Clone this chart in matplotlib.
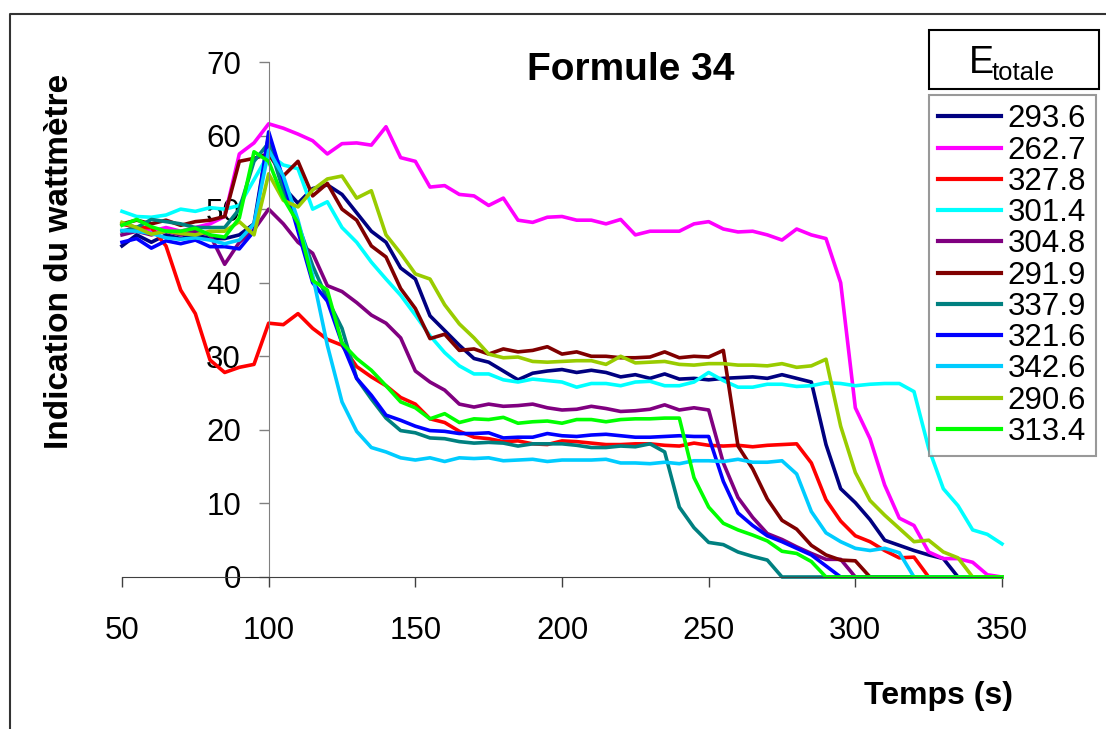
# Formule 34 : indication du wattmetre en fonction du temps
import numpy as np
import matplotlib.pyplot as plt
from matplotlib.lines import Line2D
from matplotlib.patches import Rectangle

plt.rcParams['font.family'] = ['Liberation Sans', 'DejaVu Sans']

# temps (s), un point toutes les 5 s
temps = np.arange(50, 351, 5)

# energie totale de chaque essai (legende)
energies = ['293.6', '262.7', '327.8', '301.4', '304.8', '291.9',
            '337.9', '321.6', '342.6', '290.6', '313.4']
couleurs = ['#000080', '#FF00FF', '#FF0000', '#00FFFF', '#800080', '#800000',
            '#008080', '#0000FF', '#00CCFF', '#99CC00', '#00FF00']

# valeurs (t = 50, 55, ..., 350)
e293_6 = [45, 46.5, 45.5, 46.5, 46, 46.5, 46, 46, 46.5, 48,
          60, 53, 50.8, 52.8, 53.3, 52, 49.5, 47, 45.5, 42,
          40.5, 35.5, 33.5, 31.5, 29.7, 29.2, 28, 26.8, 27.7, 28,
          28.2, 27.8, 28.1, 27.8, 27.2, 27.5, 27, 27.6, 26.9, 27,
          26.8, 27, 27.1, 27.2, 27, 27.5, 27, 26.5, 18, 12,
          10.1, 7.8, 5, 4.3, 3.6, 3, 2.5, 0, 0, 0,
          0]
e262_7 = [48, 47.5, 47, 47.5, 47, 47.5, 48, 49, 57.5, 59,
          61.6, 61, 60.2, 59.3, 57.5, 58.9, 59, 58.7, 61.2, 57,
          56.5, 53, 53.2, 52, 51.8, 50.5, 51.5, 48.5, 48.2, 48.9,
          49, 48.5, 48.5, 48, 48.6, 46.5, 47, 47, 47, 48,
          48.3, 47.3, 46.9, 47, 46.5, 45.8, 47.3, 46.5, 46, 40,
          23, 18.8, 12.5, 8, 7, 3.4, 2.5, 2.5, 2, 0.3,
          0]
e327_8 = [48, 47.5, 47.5, 45, 39, 35.8, 29.5, 27.8, 28.5, 28.9,
          34.5, 34.3, 35.8, 33.8, 32.3, 31.5, 28.6, 27.2, 26, 24.4,
          23.5, 21.5, 21, 19.8, 19, 18.8, 18.4, 18.5, 18.1, 18,
          18.5, 18.4, 18.2, 18, 18, 18.1, 18.1, 17.9, 17.8, 18.2,
          17.9, 17.8, 17.9, 17.7, 17.9, 18, 18.1, 15.5, 10.5, 7.6,
          5.6, 4.8, 3.6, 2.6, 2.7, 0, 0, 0, 0, 0,
          0]
e301_4 = [49.7, 49, 48.9, 49.2, 50, 49.7, 50.2, 50, 50.5, 54,
          57.5, 56, 55.5, 50, 51, 47.5, 45.5, 42.8, 40.5, 38.3,
          35.6, 32.8, 30.5, 28.7, 27.6, 27.6, 26.8, 26.5, 26.9, 26.7,
          26.5, 25.8, 26.3, 26.3, 26, 26.5, 26.6, 26, 26, 26.5,
          27.8, 26.7, 25.8, 25.8, 26.2, 26.2, 25.9, 26, 26.4, 26.3,
          26, 26.2, 26.3, 26.3, 25.2, 17.5, 12, 9.7, 6.4, 5.8,
          4.5]
e304_8 = [46.5, 47, 46.5, 47, 46.5, 47, 46.5, 42.5, 45.5, 47.2,
          50, 48, 45.5, 44, 39.6, 38.8, 37.3, 35.6, 34.5, 32.5,
          28, 26.5, 25.4, 23.5, 23.1, 23.5, 23.2, 23.3, 23.5, 23,
          22.7, 22.8, 23.2, 22.9, 22.5, 22.6, 22.8, 23.4, 22.7, 23,
          22.7, 15.5, 10.8, 8.1, 5.9, 5.1, 4.1, 3.2, 2.4, 2.4,
          0, 0, 0, 0, 0, 0, 0, 0, 0, 0,
          0]
e291_9 = [48, 48.5, 48, 48.5, 47.8, 48.3, 48.5, 49, 56.5, 56.9,
          57.5, 54.5, 56.5, 51.8, 53.5, 50, 48.5, 45, 43.5, 39.2,
          36.5, 32.4, 33, 30.8, 31, 30.3, 31, 30.6, 30.8, 31.3,
          30.3, 30.6, 30, 30, 29.8, 29.8, 29.9, 30.6, 29.8, 30,
          29.9, 30.8, 17.8, 14.7, 10.6, 7.7, 6.5, 4.3, 3, 2.3,
          2.2, 0, 0, 0, 0, 0, 0, 0, 0, 0,
          0]
e337_9 = [47, 47.5, 48.6, 48.3, 48, 47.5, 47.5, 47.5, 50, 56.5,
          59, 52.5, 48, 42.3, 37.8, 33.8, 27, 24.2, 21.6, 19.9,
          19.6, 18.9, 18.8, 18.4, 18.2, 18.3, 18.2, 17.8, 18.1, 18.1,
          18.1, 17.9, 17.6, 17.6, 17.8, 17.7, 18.1, 17, 9.5, 6.7,
          4.7, 4.4, 3.4, 2.8, 2.3, 0, 0, 0, 0, 0,
          0, 0, 0, 0, 0, 0, 0, 0, 0, 0,
          0]
e321_6 = [45.5, 46, 44.7, 45.7, 45.3, 45.8, 44.9, 44.9, 44.6, 47,
          60.5, 54, 47, 40, 37.5, 31.8, 27, 24.7, 22, 21.3,
          20.5, 19.9, 19.8, 19.5, 19.5, 19.6, 18.9, 19, 19, 19.5,
          19.2, 19.1, 19.3, 19.4, 19.2, 19, 19, 19.1, 19.2, 19.1,
          19.1, 13, 8.7, 7, 5.6, 4.8, 3.9, 3, 1.5, 0,
          0, 0, 0, 0, 0, 0, 0, 0, 0, 0,
          0]
e342_6 = [47.1, 47, 46.7, 46.1, 45.9, 46.1, 45.8, 45.3, 45.8, 48,
          58, 54.5, 48.5, 41, 31.5, 23.8, 19.8, 17.6, 17, 16.2,
          15.9, 16.2, 15.7, 16.2, 16.1, 16.2, 15.8, 15.9, 16, 15.7,
          15.9, 15.9, 15.9, 16, 15.5, 15.5, 15.4, 15.6, 15.4, 15.8,
          15.8, 15.7, 16, 15.6, 15.6, 15.8, 14, 8.9, 6, 4.8,
          3.9, 3.6, 3.9, 3.3, 0, 0, 0, 0, 0, 0,
          0]
e290_6 = [48.2, 47.5, 46.6, 47, 46.7, 46.5, 47, 47, 48.3, 46.5,
          54.8, 51.2, 50.3, 52.6, 54.1, 54.5, 51.5, 52.5, 46.5, 44,
          41.2, 40.5, 37, 34.4, 32.5, 30.3, 29.8, 29.9, 29.3, 29.2,
          29.3, 29.4, 29.4, 28.9, 30, 29.1, 29.2, 29.3, 28.9, 28.8,
          29, 29, 28.8, 28.8, 28.7, 29, 28.5, 28.7, 29.6, 20.5,
          14.2, 10.4, 8.4, 6.6, 4.8, 5, 3.4, 2.6, 0, 0,
          0]
e313_4 = [47.8, 48.6, 47.6, 47, 47, 47.4, 46.5, 46.2, 48.8, 57.8,
          56.5, 51.5, 48.1, 40.3, 39, 31.8, 29.7, 28.1, 26, 23.8,
          23, 21.5, 22.2, 21, 21.5, 21.4, 21.7, 20.9, 21.1, 21.2,
          20.9, 21.4, 21.4, 21.1, 21.4, 21.5, 21.5, 21.6, 21.6, 13.5,
          9.5, 7.3, 6.4, 5.7, 4.9, 3.5, 3.2, 2.1, 0, 0,
          0, 0, 0, 0, 0, 0, 0, 0, 0, 0,
          0]

series = [e293_6, e262_7, e327_8, e301_4, e304_8, e291_9,
          e337_9, e321_6, e342_6, e290_6, e313_4]

W, H = 1106, 729
fig = plt.figure(figsize=(W / 100, H / 100), dpi=100)
ax = fig.add_axes([122 / W, 152 / H, 880 / W, 515 / H])

for y, c, lab in zip(series, couleurs, energies):
    ax.plot(temps, y, color=c, lw=2.6, label=lab, clip_on=False)

ax.set_xlim(50, 350)
ax.set_ylim(0, 70)
ax.set_xticks(range(50, 351, 50))
ax.set_yticks(range(0, 71, 10))

# axe vertical a t = 100, comme dans Excel
ax.spines['left'].set_position(('data', 100))
ax.spines['left'].set_color('#808080')
ax.spines['bottom'].set_color('#404040')
ax.spines['top'].set_visible(False)
ax.spines['right'].set_visible(False)
ax.tick_params(axis='x', direction='out', length=7, width=1, pad=21,
               labelsize=22.5, color='#404040')
ax.tick_params(axis='y', direction='out', length=7, width=1, pad=13,
               labelsize=22.5, color='#808080')

fig.text(631 / W, 1 - 80 / H, 'Formule 34', fontsize=28, fontweight='bold',
         ha='center', va='baseline')
fig.text(939 / W, 1 - 704 / H, 'Temps (s)', fontsize=23, fontweight='bold',
         ha='center', va='baseline')
fig.text(60 / W, 1 - 261 / H, 'Indication du wattmètre', fontsize=24,
         fontweight='bold', rotation=90, ha='center', va='center')

# legende
leg = ax.legend(loc='upper left', bbox_to_anchor=(929 / W, 1 - 95 / H),
                bbox_transform=fig.transFigure, fontsize=22.5, frameon=True,
                fancybox=False, handlelength=2.0, handletextpad=0.22,
                labelspacing=0.04, borderpad=0.3, borderaxespad=0)
leg.get_frame().set_edgecolor('#808080')
leg.get_frame().set_linewidth(1.5)
for h in leg.get_lines():
    h.set_linewidth(3)

# titre de la legende dans sa propre boite
fig.patches.append(Rectangle((929 / W, 1 - 89 / H), 170 / W, 59 / H,
                             transform=fig.transFigure, fill=False,
                             edgecolor='black', lw=1.5))
fig.text(969 / W, 1 - 73 / H, 'E', fontsize=27, ha='left', va='baseline')
fig.text(992 / W, 1 - 80 / H, 'totale', fontsize=18.5, ha='left', va='baseline')

# cadre exterieur (bords gauche et haut)
fig.lines.append(Line2D([10 / W, 10 / W, 1], [0, 1 - 14 / H, 1 - 14 / H],
                        transform=fig.transFigure, color='#333333', lw=1.5))

fig.savefig('out.png', dpi=100)
